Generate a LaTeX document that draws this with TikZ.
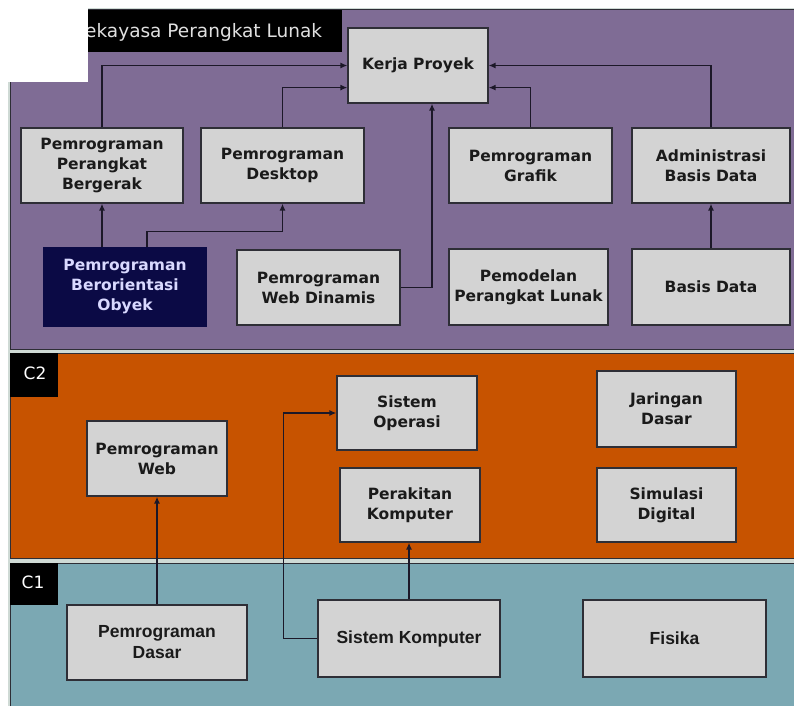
\documentclass[tikz,border=0pt]{standalone}
\usepackage{fontspec}
\usetikzlibrary{arrows.meta,calc}
\newfontfamily\dvs{DejaVu Sans}
\newfontfamily\lib{Liberation Sans}
\definecolor{purp}{HTML}{7F6C95}
\definecolor{oran}{HTML}{C75300}
\definecolor{teal2}{HTML}{7BA8B3}
\definecolor{boxfill}{HTML}{D3D3D3}
\definecolor{boxline}{HTML}{2E2E36}
\definecolor{navy}{HTML}{0B0A45}
\definecolor{sep}{HTML}{CFDAD5}
\definecolor{txt}{HTML}{1A1A1A}
\definecolor{lin}{HTML}{1C1828}
\tikzset{
  panel/.style={draw=boxline, line width=1pt},
  box/.style={draw=boxline, fill=boxfill, line width=1.2pt, align=center, inner sep=0pt,
    text=txt, font=\dvs\bfseries\fontsize{15.5}{20}\selectfont},
  cbox/.style={box, font=\lib\bfseries\fontsize{17.5}{21}\selectfont},
  arr/.style={draw=lin, line width=1.4pt, -{Latex[length=7pt,width=6pt]}},
  lbl/.style={fill=black, inner sep=0pt, text=white, font=\dvs\fontsize{17}{20}\selectfont}
}
\begin{document}
\begin{tikzpicture}[x=1pt,y=-1pt]
\useasboundingbox (0,0) rectangle (794,706);
\fill[white] (0,0) rectangle (794,706);
% panels
\fill[sep] (8,8) rectangle (794,706);
\fill[purp] (10,10) rectangle (794,349);
\draw[panel] (10,349) -- (10,10) -- (794,10);
\draw[panel] (10,349) -- (794,349);
\fill[oran] (10,353) rectangle (794,558);
\draw[panel] (10,558) -- (10,353) -- (794,353);
\draw[panel] (10,558) -- (794,558);
\fill[teal2] (10,563) rectangle (794,706);
\draw[panel] (10,706) -- (10,563) -- (794,563);
% title bar
\fill[black] (10,10) rectangle (342,52);
\node[anchor=west, inner sep=0pt, text=white!88!black, font=\dvs\fontsize{18.5}{22}\selectfont] (title) at (85,32) {ekayasa Perangkat Lunak};
\fill[white] (0,0) rectangle (88,82);
% level labels
\node[lbl, minimum width=48pt, minimum height=44pt, text depth=0pt] (c2) at (34,375) {};
\node[text=white, font=\dvs\fontsize{17}{20}\selectfont, inner sep=0pt] (c2t) at (35,373) {C2};
\node[lbl, minimum width=48pt, minimum height=42pt] (c1) at (34,584) {};
\node[text=white, font=\dvs\fontsize{17}{20}\selectfont, inner sep=0pt] (c1t) at (33,582) {C1};
% purple panel nodes
\node[box, minimum width=140pt, minimum height=75pt] (kerja) at (418,65.5) {Kerja Proyek};
\node[box, minimum width=162pt, minimum height=75pt] (bergerak) at (102,165.5) {Pemrograman\\Perangkat\\Bergerak};
\node[box, minimum width=163pt, minimum height=75pt] (desktop) at (282.5,165.5) {Pemrograman\\Desktop};
\node[box, minimum width=163pt, minimum height=75pt] (grafik) at (530.5,165.5) {Pemrograman\\Grafik};
\node[box, minimum width=158pt, minimum height=75pt] (admin) at (711,165.5) {Administrasi\\Basis Data};
\node[box, fill=navy, draw=navy, text=white!85!blue, minimum width=162pt, minimum height=78pt] (oop) at (125,287) {Pemrograman\\Berorientasi\\Obyek};
\node[box, minimum width=163pt, minimum height=75pt] (webdin) at (318.5,287.5) {Pemrograman\\Web Dinamis};
\node[box, minimum width=159pt, minimum height=76pt] (pemodelan) at (528.5,287) {Pemodelan\\Perangkat Lunak};
\node[box, minimum width=158pt, minimum height=76pt] (basis) at (711,287) {Basis Data};
% orange panel nodes
\node[box, minimum width=140pt, minimum height=75pt] (pweb) at (157,458.5) {Pemrograman\\Web};
\node[box, minimum width=140pt, minimum height=74pt] (sisop) at (407,413) {Sistem\\Operasi};
\node[box, minimum width=140pt, minimum height=74pt] (rakit) at (410,505) {Perakitan\\Komputer};
\node[box, minimum width=139pt, minimum height=76pt] (jaringan) at (666.5,409) {Jaringan\\Dasar};
\node[box, minimum width=139pt, minimum height=74pt] (simulasi) at (666.5,505) {Simulasi\\Digital};
% teal panel nodes
\node[cbox, minimum width=180pt, minimum height=75pt] (pdasar) at (157,642.5) {Pemrograman\\Dasar};
\node[cbox, minimum width=182pt, minimum height=77pt] (siskom) at (409,638.5) {Sistem Komputer};
\node[cbox, minimum width=183pt, minimum height=77pt] (fisika) at (674.5,638.5) {Fisika};
% helper coordinates
\coordinate (kL2) at ([yshift=16pt]kerja.south west);
\coordinate (kR2) at ([yshift=16pt]kerja.south east);
\coordinate (kB) at ([xshift=14pt]kerja.south);
\coordinate (o2s) at ([xshift=22pt]oop.north);
\coordinate (o2) at ([xshift=22pt,yshift=16pt]oop.north);
\coordinate (sk) at ([xshift=-34pt]siskom.west);
% connectors
\draw[arr] (bergerak.north) |- (kerja.west);
\draw[arr] (desktop.north) |- (kL2);
\draw[arr] (grafik.north) |- (kR2);
\draw[arr] (admin.north) |- (kerja.east);
\draw[arr] (webdin.east) -| (kB);
\draw[arr] (basis.north) -- (admin.south);
\draw[arr] (oop.north -| bergerak.south) -- (bergerak.south);
\draw[arr] (o2s) -- (o2) -| (desktop.south);
\draw[arr] (pdasar.north) -- (pweb.south);
\draw[arr] (siskom.north) -- (siskom.north |- rakit.south);
\draw[arr] (siskom.west) -- (sk) |- (sisop.west);
\end{tikzpicture}
\end{document}
